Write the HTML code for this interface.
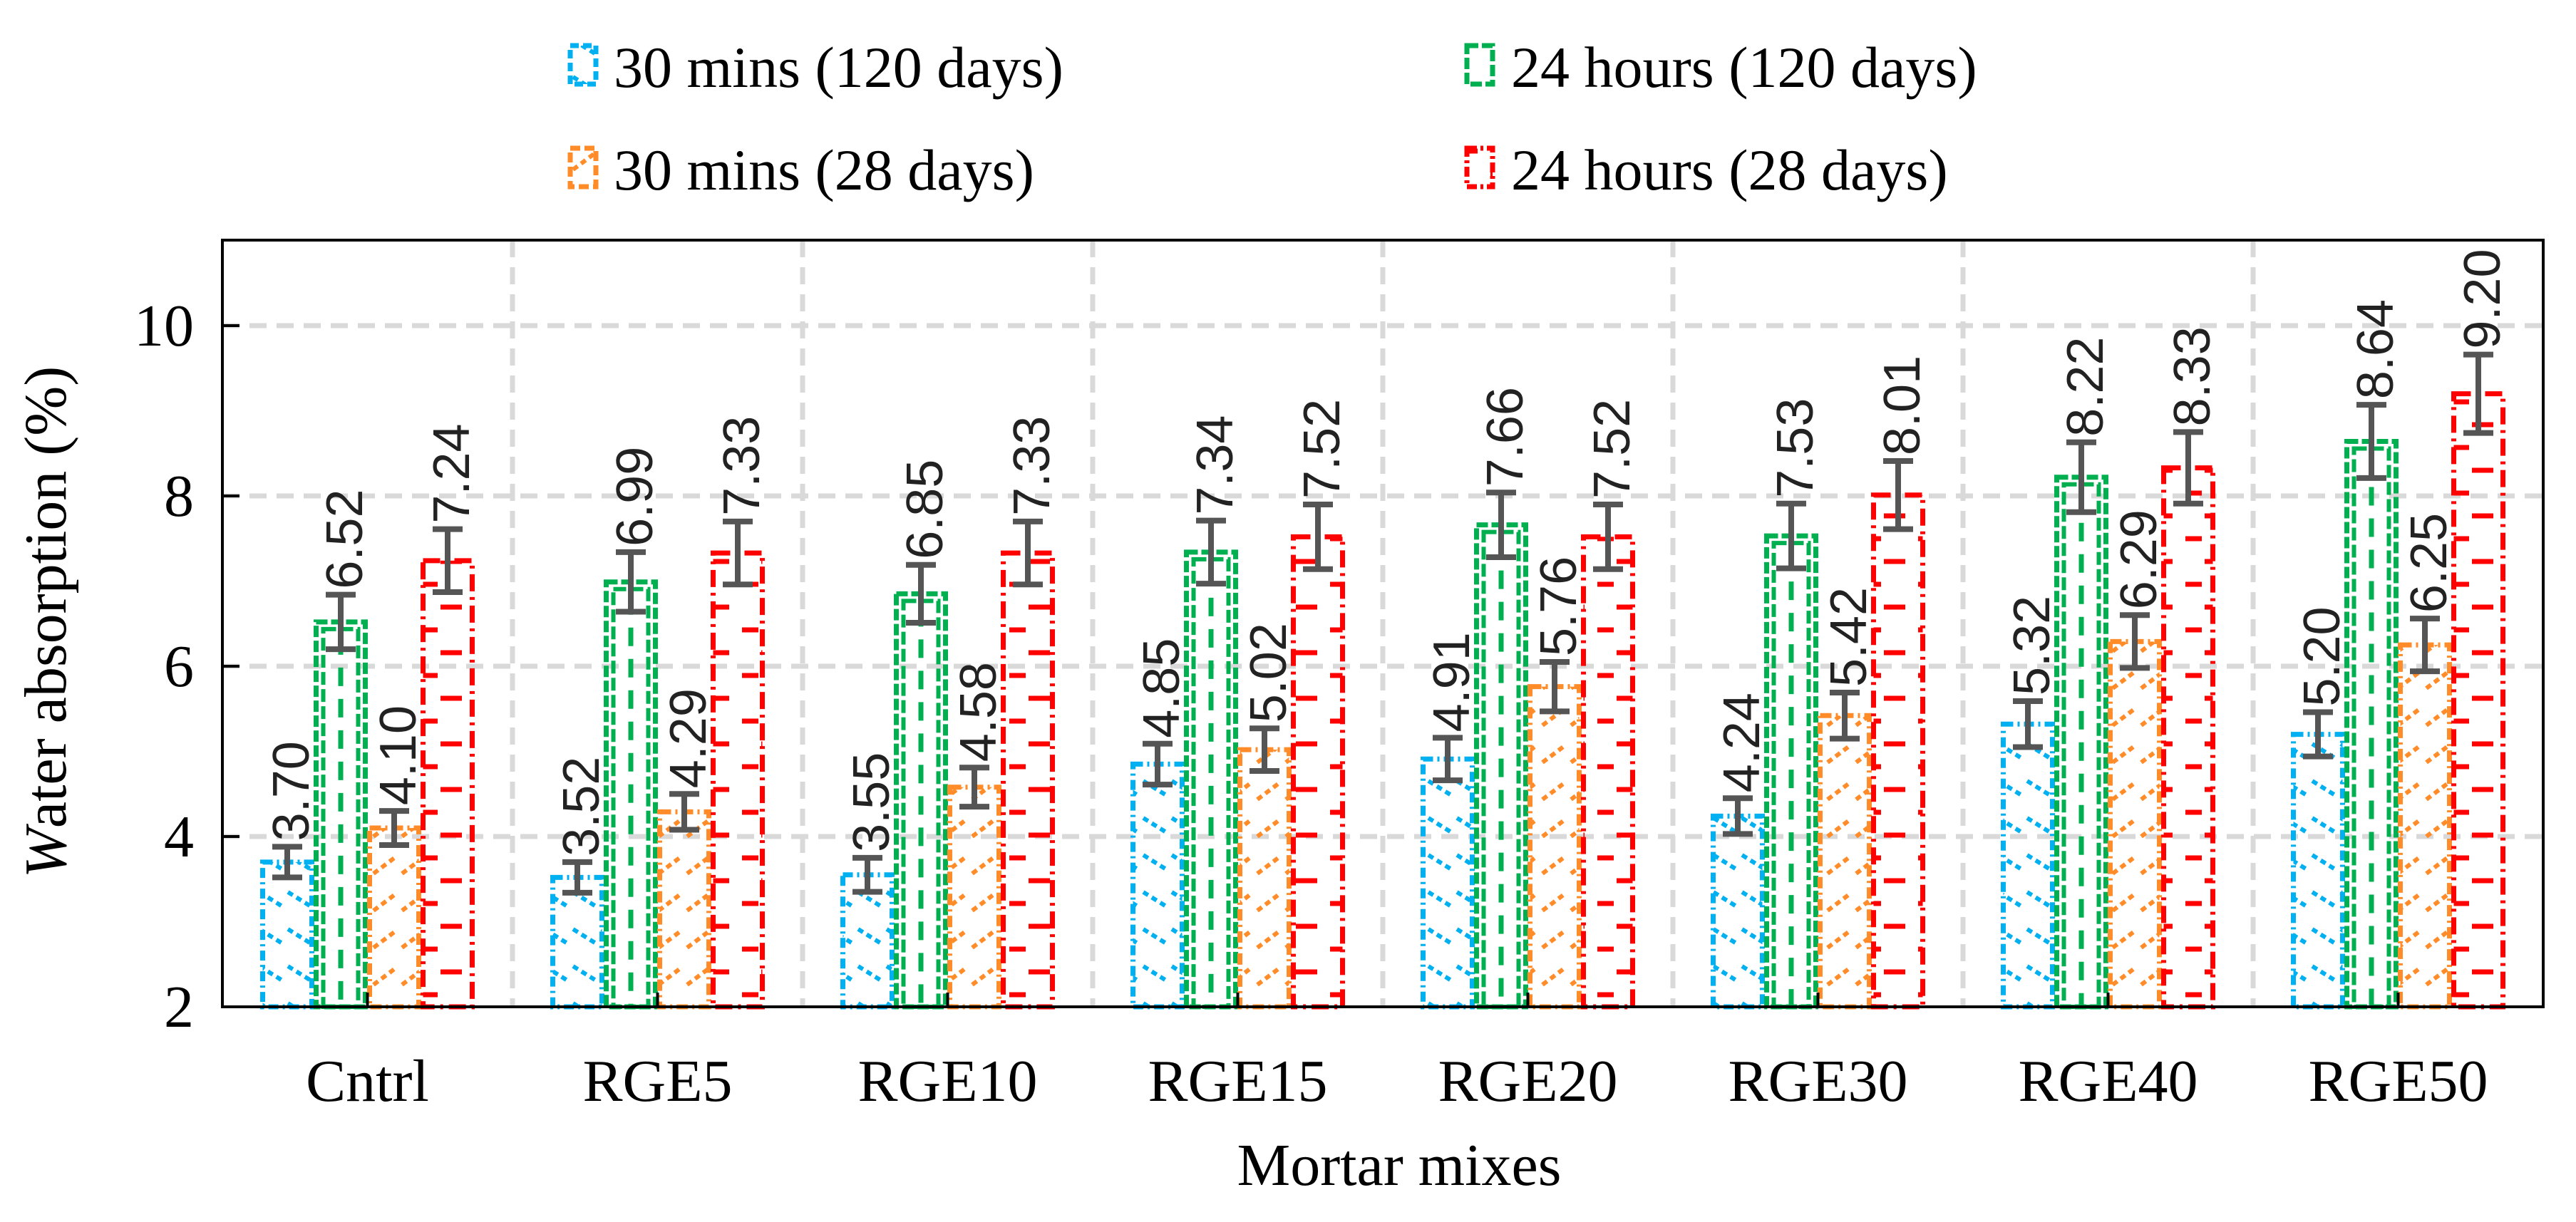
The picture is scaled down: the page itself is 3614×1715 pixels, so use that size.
<!DOCTYPE html>
<html><head><meta charset="utf-8"><style>
html,body{margin:0;padding:0;background:#fff;}
svg{display:block;}
text{font-family:"Liberation Serif",serif;}
.lbl{font-family:"Liberation Sans",sans-serif;}
</style></head><body>
<svg id="chart" width="3614" height="1715" viewBox="0 0 3614 1715" xmlns="http://www.w3.org/2000/svg">
<defs>
<pattern id="pc" width="40" height="52" patternUnits="userSpaceOnUse">
<path d="M4 4 L36 24" stroke="#00b0f0" stroke-width="6" stroke-dasharray="8 6"/>
</pattern>
<pattern id="po" width="40" height="52" patternUnits="userSpaceOnUse">
<path d="M4 30 L36 6" stroke="#ff8c29" stroke-width="6" stroke-dasharray="8 6"/>
</pattern>
<pattern id="pr" width="75" height="64" patternUnits="userSpaceOnUse">
<path d="M18 20 H48" stroke="#ff0000" stroke-width="7"/>
<path d="M0 52 H14 M66 52 H75" stroke="#ff0000" stroke-width="7"/>
</pattern>
</defs>
<g id="grid"></g>
<g id="bars"></g>
<g id="axes"></g>
<text x="92" y="873" font-size="84" text-anchor="middle" transform="rotate(-90 92 873)"><tspan font-style="italic">W</tspan>ater absorption (%)</text>
<text x="1963" y="1663" font-size="84" text-anchor="middle">Mortar mixes</text>
<g>
<g>
<rect x="800" y="64" width="36" height="54" fill="url(#pc)" stroke="#00b0f0" stroke-width="7" stroke-dasharray="12 6"/>
<text x="861" y="122" font-size="82">30 mins (120 days)</text></g>
<g>
<rect x="2058" y="64" width="36" height="54" fill="none" stroke="#00b050" stroke-width="7" stroke-dasharray="16 5"/>
<text x="2120" y="122" font-size="82">24 hours (120 days)</text></g>
<g>
<rect x="800" y="208" width="36" height="54" fill="url(#po)" stroke="#ff8c29" stroke-width="7" stroke-dasharray="14 6"/>
<text x="861" y="266" font-size="82">30 mins (28 days)</text></g>
<g>
<rect x="2058" y="208" width="36" height="54" fill="url(#pr)" stroke="#ff0000" stroke-width="7" stroke-dasharray="14 5 4 5"/>
<text x="2120" y="266" font-size="82">24 hours (28 days)</text></g>
</g>
</svg>
<script>
const categories=["Cntrl","RGE5","RGE10","RGE15","RGE20","RGE30","RGE40","RGE50"];
const s30m120=[3.70,3.52,3.55,4.85,4.91,4.24,5.32,5.20];
const s24h120=[6.52,6.99,6.85,7.34,7.66,7.53,8.22,8.64];
const s30m28=[4.10,4.29,4.58,5.02,5.76,5.42,6.29,6.25];
const s24h28=[7.24,7.33,7.33,7.52,7.52,8.01,8.33,9.20];
const e30m120=[0.18,0.18,0.2,0.24,0.25,0.21,0.27,0.26];
const e24h120=[0.32,0.35,0.34,0.37,0.38,0.38,0.41,0.43];
const e30m28=[0.2,0.21,0.23,0.25,0.29,0.27,0.31,0.31];
const e24h28=[0.37,0.37,0.37,0.38,0.38,0.4,0.42,0.46];
const yTicks=[2,4,6,8,10];
const NS="http://www.w3.org/2000/svg";
const X0=312,X1=3568,Y0=1413,YT=337,ymin=2,ymax=11;
const band=(X1-X0)/categories.length;
function yS(v){return Y0-(v-ymin)*(Y0-457)/(10-ymin);}
function xC(i){return X0+band*(i+0.5);}
function mk(tag,attrs,parent){const e=document.createElementNS(NS,tag);for(const k in attrs)e.setAttribute(k,attrs[k]);parent.appendChild(e);return e;}
const grid=document.getElementById('grid'),bars=document.getElementById('bars'),axes=document.getElementById('axes');
yTicks.forEach(t=>{if(t>ymin){const l=mk('line',{x1:X0,x2:X1,y1:yS(t),y2:yS(t),stroke:'#d9d9d9','stroke-width':7,'stroke-dasharray':'24 14'},grid);

}
const tl=mk('line',{x1:X0,x2:X0+24,y1:yS(t),y2:yS(t),stroke:'#000','stroke-width':4},axes);


const tx=mk('text',{x:272,y:yS(t)+28,'font-size':84,'text-anchor':'end'},axes);tx.textContent=t;

});
for(let i=1;i<categories.length;i++){const l=mk('line',{x1:X0+band*i,x2:X0+band*i,y1:YT,y2:Y0,stroke:'#d9d9d9','stroke-width':7,'stroke-dasharray':'24 14'},grid);

}
const series=[
{v:s30m120,e:e30m120,fill:'url(#pc)',stroke:'#00b0f0',dash:'14 6 3 6',name:'30min-120d'},
{v:s24h120,e:e24h120,fill:'none',stroke:'#00b050',dash:'16 5',name:'24h-120d',dbl:true},
{v:s30m28,e:e30m28,fill:'url(#po)',stroke:'#ff8c29',dash:'16 6 3 6',name:'30min-28d'},
{v:s24h28,e:e24h28,fill:'url(#pr)',stroke:'#ff0000',dash:'24 8 4 8',name:'24h-28d'}];
const bw=75,gw=bw*series.length;
categories.forEach((c,i)=>{
series.forEach((s,j)=>{
const x=xC(i)-gw/2+j*bw,v=s.v[i],top=yS(v),cx=x+bw/2;
const r=mk('rect',{x:x+3,y:top,width:bw-6,height:Y0-top,fill:s.fill,stroke:s.stroke,'stroke-width':7,'stroke-dasharray':s.dash},bars);


if(s.dbl){mk('rect',{x:x+13,y:top+10,width:bw-26,height:Y0-top-10,fill:'none',stroke:s.stroke,'stroke-width':6,'stroke-dasharray':'18 6'},bars);
mk('line',{x1:cx,x2:cx,y1:top+20,y2:Y0,stroke:s.stroke,'stroke-width':7,'stroke-dasharray':'26 18'},bars);}
const eT=yS(v+s.e[i]),eB=yS(v-s.e[i]);
const eg=mk('g',{stroke:'#555','stroke-width':8},bars);


mk('line',{x1:cx,x2:cx,y1:eT,y2:eB},eg);
mk('line',{x1:cx-21,x2:cx+21,y1:eT,y2:eT},eg);
mk('line',{x1:cx-21,x2:cx+21,y1:eB,y2:eB},eg);
const lx=cx+30,ly=eT-8;
const t=mk('text',{x:lx,y:ly,'font-size':72,class:'lbl',fill:'#222',transform:'rotate(-90 '+lx+' '+ly+')'},bars);
t.textContent=v.toFixed(2);

});
const xt=mk('line',{x1:xC(i),x2:xC(i),y1:Y0,y2:Y0-20,stroke:'#000','stroke-width':4},axes);


const tx=mk('text',{x:xC(i),y:1545,'font-size':84,'text-anchor':'middle'},axes);tx.textContent=c;

});
const fr=mk('rect',{x:X0,y:YT,width:X1-X0,height:Y0-YT,fill:'none',stroke:'#000','stroke-width':4},axes);


</script>
</body></html>
